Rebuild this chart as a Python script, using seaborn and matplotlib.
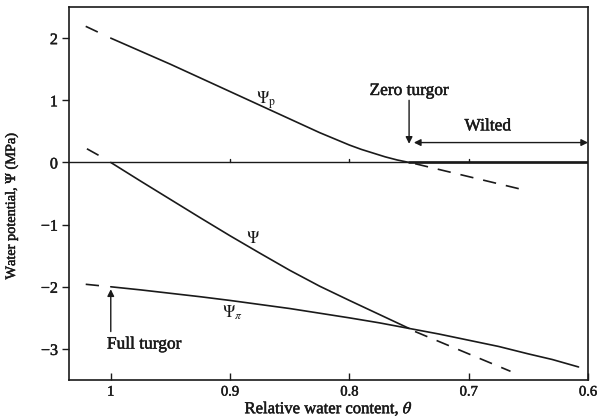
import numpy as np
import pandas as pd
import seaborn as sns
import matplotlib
matplotlib.use("Agg")
import matplotlib.pyplot as plt
import matplotlib.patheffects as pe

# Relative water content (theta) and the potential components in MPa
theta = [1.00, 0.975, 0.95, 0.925, 0.90, 0.875, 0.85, 0.825, 0.80,
         0.79, 0.78, 0.77, 0.76, 0.75]
# turgor (pressure) potential
psi_p = [2.00, 1.79, 1.58, 1.36, 1.14, 0.92, 0.70, 0.48, 0.28,
         0.21, 0.15, 0.09, 0.04, 0.00]
# total water potential
psi_total = [0.00, -0.30, -0.595, -0.89, -1.18, -1.46, -1.735, -1.99, -2.22,
             -2.31, -2.40, -2.49, -2.58, -2.67]

# osmotic potential
theta_pi = [1.00, 0.975, 0.95, 0.925, 0.90, 0.875, 0.85, 0.825, 0.80,
            0.775, 0.75, 0.725, 0.70, 0.675, 0.65, 0.63, 0.608]
psi_pi = [-2.00, -2.05, -2.105, -2.16, -2.22, -2.285, -2.35, -2.425, -2.50,
          -2.58, -2.67, -2.76, -2.86, -2.96, -3.08, -3.17, -3.29]

# Wilted range: turgor stays at zero
theta_wilt = [0.75, 0.60]
psi_p_wilt = [0.0, 0.0]

# Linear extrapolations (dashed)
ext_p_hi_theta, ext_p_hi = [1.021, 1.005], [2.19, 2.045]
ext_p_lo_theta, ext_p_lo = [0.745, 0.652], [-0.02, -0.45]
ext_t_hi_theta, ext_t_hi = [1.020, 1.005], [0.22, 0.06]
ext_t_lo_theta, ext_t_lo = [0.745, 0.665], [-2.72, -3.36]
ext_pi_theta, ext_pi = [1.021, 1.003], [-1.96, -1.995]

x_ticks = [1.0, 0.9, 0.8, 0.7, 0.6]
x_ticklabels = ["1", "0.9", "0.8", "0.7", "0.6"]
y_ticks = [2, 1, 0, -1, -2, -3]
y_ticklabels = ["2", "1", "0", "\u22121", "\u22122", "\u22123"]

sns.set_style("ticks")
plt.rcParams["font.family"] = ["Liberation Serif", "DejaVu Serif"]
plt.rcParams["mathtext.fontset"] = "stix"

ink = "#1a1a1a"
# a slightly heavier than regular text weight
heavy = [pe.withStroke(linewidth=0.35, foreground=ink)]

fig = plt.figure(figsize=(5.98, 4.2), dpi=100)
ax = fig.add_axes([0.1154, 0.0952, 0.868, 0.888])

lw = 1.2
solid = dict(color=ink, linewidth=lw)

sns.lineplot(x=theta, y=psi_p, ax=ax, sort=False, **solid)
sns.lineplot(x=theta, y=psi_total, ax=ax, sort=False, **solid)
sns.lineplot(x=theta_pi, y=psi_pi, ax=ax, sort=False, **solid)
sns.lineplot(x=theta_wilt, y=psi_p_wilt, ax=ax, sort=False, color=ink, linewidth=1.9)

for xs, ys in [(ext_p_hi_theta, ext_p_hi), (ext_p_lo_theta, ext_p_lo),
               (ext_t_hi_theta, ext_t_hi), (ext_t_lo_theta, ext_t_lo),
               (ext_pi_theta, ext_pi)]:
    ax.plot(xs, ys, linestyle=(0, (8, 6)), color=ink, linewidth=lw)

# zero line with small upward ticks
ax.axhline(0, color=ink, linewidth=1.0)
for t in [0.9, 0.8, 0.7]:
    ax.plot([t, t], [0, 0.06], color=ink, linewidth=1.0)

ax.set_xlim(1.035, 0.6)
ax.set_ylim(-3.5, 2.5)
ax.set_xticks(x_ticks)
ax.set_xticklabels(x_ticklabels)
ax.set_yticks(y_ticks)
ax.set_yticklabels(y_ticklabels)
ax.tick_params(axis="x", direction="in", length=5, width=1, labelsize=10.5, pad=4,
               colors=ink)
ax.tick_params(axis="y", direction="out", length=5, width=1, labelsize=11.5, pad=3,
               colors=ink)
for lab in ax.get_xticklabels() + ax.get_yticklabels():
    lab.set_path_effects(heavy)
for s in ax.spines.values():
    s.set_visible(True)
    s.set_linewidth(1.2)
    s.set_color(ink)

ax.set_xlabel(r"Relative water content, $\theta$",
              fontsize=12, labelpad=1, color=ink, path_effects=heavy)
ax.set_ylabel(r"Water potential, $\Psi$ (MPa)", fontsize=10.3, color=ink,
              path_effects=heavy)
ax.yaxis.set_label_coords(-0.094, 0.467)

# curve labels
ax.text(0.870, 1.00, r"$\Psi_{\rm p}$", fontsize=12, ha="center", va="center",
        color=ink)
ax.text(0.881, -1.23, r"$\Psi$", fontsize=12, ha="center", va="center",
        color=ink)
ax.text(0.898, -2.42, r"$\Psi_\pi$", fontsize=12, ha="center", va="center",
        color=ink)

arrow = dict(arrowstyle="-|>", color=ink, lw=1.0, mutation_scale=10,
             shrinkA=0, shrinkB=0)
label_style = dict(fontsize=12.5, ha="center", va="center", color=ink,
                   path_effects=heavy)
# zero turgor
ax.text(0.75, 1.15, "Zero turgor", **label_style)
ax.annotate("", xy=(0.75, 0.30), xytext=(0.75, 1.0), arrowprops=arrow)
# wilted range
ax.text(0.684, 0.58, "Wilted", **label_style)
ax.annotate("", xy=(0.6, 0.32), xytext=(0.746, 0.32),
            arrowprops=dict(arrowstyle="<|-|>", color=ink, lw=1.0,
                            mutation_scale=10, shrinkA=0, shrinkB=0))
# full turgor
ax.text(0.972, -2.93, "Full turgor", **label_style)
ax.annotate("", xy=(1.0, -2.04), xytext=(1.0, -2.72), arrowprops=arrow)

fig.savefig("out.png", dpi=100)
